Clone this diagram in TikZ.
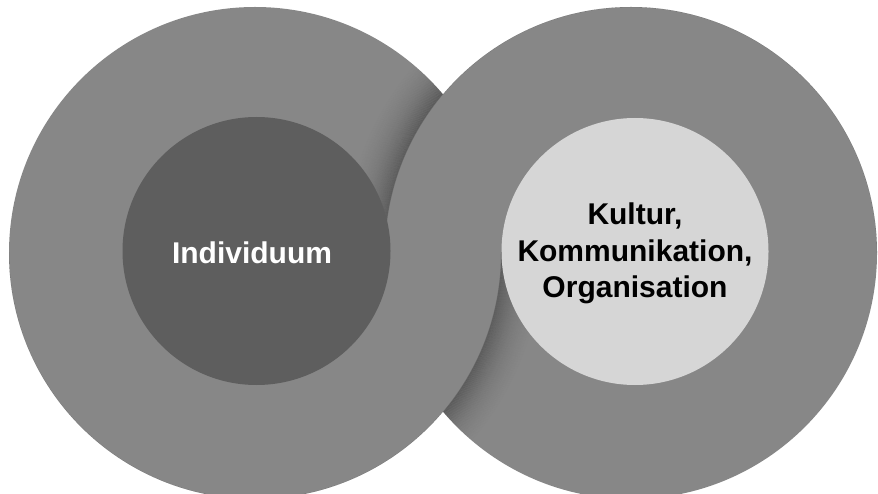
\documentclass[tikz,border=0pt]{standalone}
\usepackage{fontspec}
\setmainfont{Liberation Sans}
\definecolor{ringgray}{HTML}{878787}
\definecolor{coredark}{HTML}{5E5E5E}
\definecolor{corelight}{HTML}{D6D6D6}
\tikzset{
  outerring/.style={circle, inner sep=0pt, minimum size=492pt, fill=ringgray},
  core/.style={circle, inner sep=0pt, minimum size=#1},
  label/.style={font=\bfseries\fontsize{30}{36.5}\selectfont, align=center, inner sep=0pt},
}
\begin{document}
\begin{tikzpicture}[x=1pt, y=-1pt]
  \useasboundingbox (0,0) rectangle (878,494);

  % the two large rings
  \node[outerring] (outerL) at (255,253) {};
  \node[outerring] (outerR) at (631,253) {};

  % upper crossing: the right ring casts a soft shadow on the left ring
  \begin{scope}[even odd rule]
    \clip (outerL.center) circle[radius=246pt] (outerR.center) circle[radius=246pt];
    \clip (0,0) rectangle (878,253);
    \foreach \d in {0,...,44} {
      \pgfmathsetmacro{\op}{0.24*(1-\d/45)^2}
      \draw[black, opacity=\op, line width=1.2pt] (outerR.center) circle[radius={(246.5+\d)*1pt}];
    }
  \end{scope}

  % lower crossing: the left ring casts a soft shadow on the right ring
  \begin{scope}[even odd rule]
    \clip (outerL.center) circle[radius=246pt] (outerR.center) circle[radius=246pt];
    \clip (0,253) rectangle (878,494);
    \foreach \d in {0,...,44} {
      \pgfmathsetmacro{\op}{0.24*(1-\d/45)^2}
      \draw[black, opacity=\op, line width=1.2pt] (outerL.center) circle[radius={(246.5+\d)*1pt}];
    }
  \end{scope}

  % inner discs
  \node[core=268pt, fill=coredark] (coreL) at (256.5,251) {};
  \node[core=267pt, fill=corelight] (coreR) at (635,251.5) {};

  % labels
  \node[label, text=white] (indiv) at (252,253) {Individuum};
  \node[label, text=black] (kultur) at (635,253.5) {Kultur,\\Kommunikation,\\Organisation};
\end{tikzpicture}
\end{document}
